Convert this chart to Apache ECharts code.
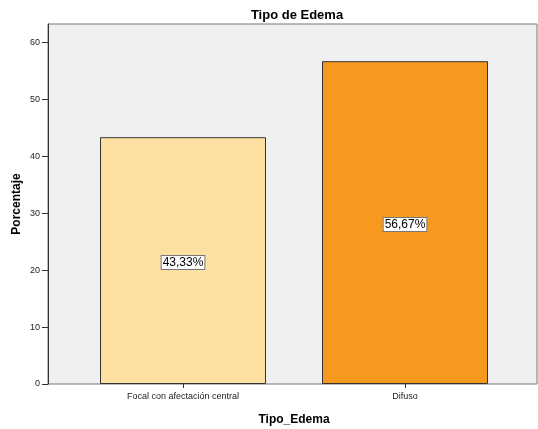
<!DOCTYPE html>
<html>
<head>
<meta charset="utf-8">
<script src="https://cdn.jsdelivr.net/npm/echarts@6/dist/echarts.min.js"></script>
<style>html,body{margin:0;padding:0;background:#fff}#c{width:538px;height:429px}</style>
</head>
<body>
<div id="c"></div>
<script>
// Edema type distribution (percent of cases)
const categories = ['Focal con afectación central', 'Difuso'];
const percentages = [43.33, 56.67];
const barColors = ['#FDDFA1', '#F8991F'];
const yTicks = [0, 10, 20, 30, 40, 50, 60];

const yMax = 63.2;
const chart = echarts.init(document.getElementById('c'), null, { renderer: 'canvas' });

chart.setOption({
  animation: false,
  title: {
    text: 'Tipo de Edema',
    left: 292, top: 4, textAlign: 'center',
    textStyle: { fontFamily: 'Liberation Sans, Arial', fontSize: 13, fontWeight: 'bold', color: '#000' }
  },
  grid: [
    // full plotting frame with grey background
    { left: 48, right: 1, top: 24, bottom: 45, show: true, backgroundColor: '#F0F0F0', borderColor: '#777', borderWidth: 1, outerBoundsMode: 'none', containLabel: false },
    // inner band that holds the two category slots
    { left: 72, right: 22, top: 24, bottom: 45, outerBoundsMode: 'none', containLabel: false }
  ],
  xAxis: [
    { gridIndex: 0, type: 'value', min: 0, max: 1, show: false },
    {
      gridIndex: 1, type: 'category', data: categories,
      name: 'Tipo_Edema', nameLocation: 'middle', nameGap: 30,
      nameTextStyle: { fontFamily: 'Liberation Sans, Arial', fontSize: 12, fontWeight: 'bold', color: '#000' },
      axisLine: { show: false },
      axisTick: { show: true, alignWithLabel: true, length: 4, lineStyle: { color: '#333' } },
      axisLabel: { fontFamily: 'Liberation Sans, Arial', fontSize: 9, color: '#222', margin: 8 }
    }
  ],
  yAxis: [
    {
      gridIndex: 0, type: 'value', min: 0, max: yMax, interval: 10,
      name: 'Porcentaje', nameLocation: 'middle', nameGap: 25, nameMoveOverlap: false,
      nameTextStyle: { fontFamily: 'Liberation Sans, Arial', fontSize: 12, fontWeight: 'bold', color: '#000' },
      axisLine: { show: true, lineStyle: { color: '#333' } },
      axisTick: { show: true, length: 6, customValues: yTicks, lineStyle: { color: '#333' } },
      axisLabel: {
        fontFamily: 'Liberation Sans, Arial', fontSize: 9, color: '#222', margin: 8,
        customValues: yTicks
      },
      splitLine: { show: false }
    },
    { gridIndex: 1, type: 'value', min: 0, max: yMax, show: false }
  ],
  series: [{
    type: 'bar',
    xAxisIndex: 1, yAxisIndex: 1,
    barWidth: 166,
    data: percentages.map((v, i) => ({
      value: v,
      itemStyle: { color: barColors[i], borderColor: '#333', borderWidth: 1 }
    })),
    label: {
      show: true, position: 'inside', offset: [0, 2],
      formatter: p => p.value.toFixed(2).replace('.', ',') + '%',
      fontFamily: 'Liberation Sans, Arial', fontSize: 12, color: '#000',
      backgroundColor: '#fff', borderColor: '#777', borderWidth: 1, padding: [1, 1, 0, 1]
    }
  }]
});
</script>
</body>
</html>
